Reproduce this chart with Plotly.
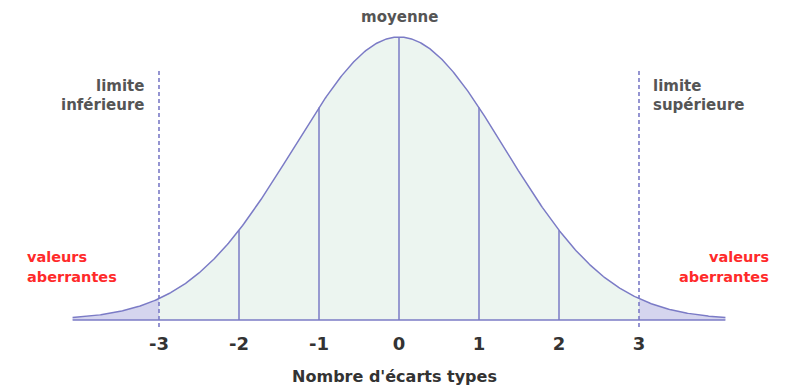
import numpy as np
import plotly.graph_objects as go

# Bell curve parameters (x axis in standard-deviation units)
mean = 0.0
spread = 1.32          # width of the drawn bell in axis units
x_extent = 4.08        # curve drawn from -x_extent to +x_extent
limits = [-3, 3]
inner_marks = [-2, -1, 0, 1, 2]
tick_values = [-3, -2, -1, 0, 1, 2, 3]
tick_labels = ["-3", "-2", "-1", "0", "1", "2", "3"]

LINE = "#7b7bc6"
MID_FILL = "#ecf5f0"
TAIL_FILL = "#d5d5ee"
TEXT = "#333333"
LABEL = "#555555"
RED = "#ff2a2a"
FONT = "DejaVu Sans"

# plot-area geometry helpers: 80 px per unit, baseline 320 px from the top
PX_PER_UNIT = 80.0
X0_PX = 399.0
BASE_PX = 320.0
PEAK_PX = 283.0


def xd(px):
    return (px - X0_PX) / PX_PER_UNIT


def yd(py):
    return (BASE_PX - py) / PEAK_PX


def bell(x):
    return np.exp(-0.5 * ((np.asarray(x) - mean) / spread) ** 2)


fig = go.Figure()

# shaded regions under the curve
xs_left = np.linspace(-x_extent, limits[0], 80)
xs_mid = np.linspace(limits[0], limits[1], 300)
xs_right = np.linspace(limits[1], x_extent, 80)
for xs, col in [(xs_left, TAIL_FILL), (xs_mid, MID_FILL), (xs_right, TAIL_FILL)]:
    fig.add_trace(go.Scatter(x=xs, y=bell(xs), mode="lines", line=dict(width=0),
                             fill="tozeroy", fillcolor=col, hoverinfo="skip"))

# solid markers at whole standard deviations
for m in inner_marks:
    fig.add_trace(go.Scatter(x=[m, m], y=[0, float(bell(m))], mode="lines",
                             line=dict(color=LINE, width=1.5), hoverinfo="skip"))

# dashed limits
for m in limits:
    fig.add_trace(go.Scatter(x=[m, m], y=[yd(327), yd(70)], mode="lines",
                             line=dict(color=LINE, width=1.6, dash="4px,3px"),
                             hoverinfo="skip"))

# curve outline and baseline
xs_all = np.linspace(-x_extent, x_extent, 600)
fig.add_trace(go.Scatter(x=xs_all, y=bell(xs_all), mode="lines",
                         line=dict(color=LINE, width=1.5), hoverinfo="skip"))
fig.add_trace(go.Scatter(x=[-x_extent, x_extent], y=[0, 0], mode="lines",
                         line=dict(color=LINE, width=1.5), hoverinfo="skip"))


def label(text, px, py, anchor, color=LABEL, size=15):
    return dict(x=xd(px), y=yd(py), text="<b>" + text + "</b>", xanchor=anchor,
                yanchor="middle", xref="x", yref="y", showarrow=False,
                font=dict(size=size, color=color))


annotations = [
    label("moyenne", 399, 17, "center"),
    label("limite", 146, 86, "right"),
    label("inférieure", 146, 105, "right"),
    label("limite", 651, 86, "left"),
    label("supérieure", 651, 105, "left"),
    label("valeurs", 25, 257, "left", RED, 14.5),
    label("aberrantes", 25, 277, "left", RED, 14.5),
    label("valeurs", 771, 257, "right", RED, 14.5),
    label("aberrantes", 771, 277, "right", RED, 14.5),
]

fig.update_layout(
    width=789, height=388,
    margin=dict(l=0, r=0, t=0, b=60),
    paper_bgcolor="white", plot_bgcolor="white",
    showlegend=False,
    font=dict(family=FONT, color=TEXT),
    annotations=annotations,
    xaxis=dict(range=[xd(0), xd(789)], showgrid=False, zeroline=False,
               showline=False, tickmode="array", tickvals=tick_values,
               ticktext=tick_labels, ticks="", ticklabelstandoff=3,
               tickfont=dict(size=18, color=TEXT, weight="bold"),
               title=dict(text="<b>Nombre d'écarts types</b>",
                          font=dict(size=16, color=TEXT), standoff=17)),
    yaxis=dict(range=[yd(328), yd(0)], showgrid=False, zeroline=False,
               showline=False, showticklabels=False, ticks=""),
)

fig.write_html("out.html")
